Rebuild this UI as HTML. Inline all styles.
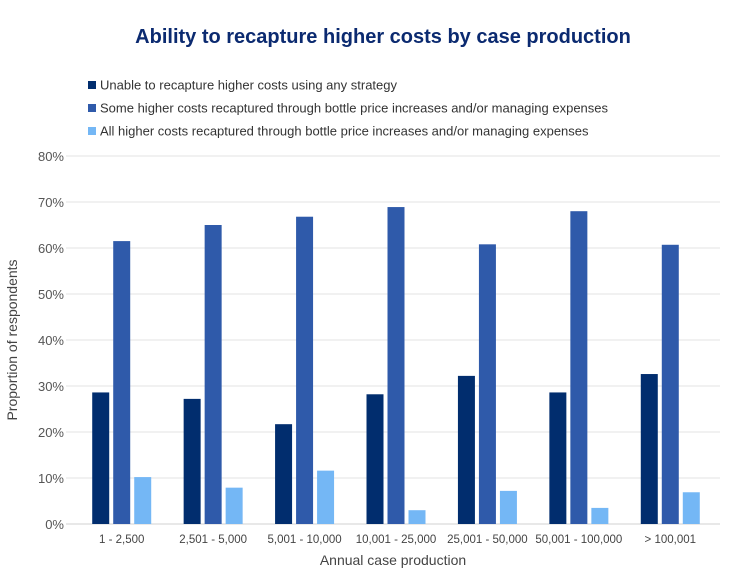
<!DOCTYPE html>
<html><head><meta charset="utf-8"><style>
body{margin:0;background:#fff;font-family:"Liberation Sans",Arial,sans-serif;}
svg text{font-family:"Liberation Sans",Arial,sans-serif;}
</style></head><body>
<svg id="chart" width="744" height="582" xmlns="http://www.w3.org/2000/svg">
<text x="383" y="43" text-anchor="middle" font-size="20" font-weight="bold" fill="#0b2a70">Ability to recapture higher costs by case production</text>
<g id="legend"></g>
<g id="grid"></g>
<g id="bars"></g>
<g id="xlabels"></g>
<text x="393" y="565" text-anchor="middle" font-size="14" fill="#444">Annual case production</text>
<text transform="translate(17,340) rotate(-90)" text-anchor="middle" font-size="14" fill="#444">Proportion of respondents</text>
</svg>
<script>
const categories=["1 - 2,500","2,501 - 5,000","5,001 - 10,000","10,001 - 25,000","25,001 - 50,000","50,001 - 100,000","> 100,001"];
const unable=[28.6,27.2,21.7,28.2,32.2,28.6,32.6];
const some=[61.5,65.0,66.8,68.9,60.8,68.0,60.7];
const all=[10.2,7.9,11.6,3.0,7.2,3.5,6.9];
const seriesNames=["Unable to recapture higher costs using any strategy","Some higher costs recaptured through bottle price increases and/or managing expenses","All higher costs recaptured through bottle price increases and/or managing expenses"];
const yTicks=[0,10,20,30,40,50,60,70,80];
const colors=["#012d6e","#2f5aaa","#74b7f5"];
const NS="http://www.w3.org/2000/svg";
const L=76,R=716,GR=720,T=156,B=524,ymax=80;
const y=v=>B-(v/ymax)*(B-T);
const gw=(R-L)/categories.length;
const bw=17,gap=4;
function mk(tag,attrs,parent){const e=document.createElementNS(NS,tag);for(const k in attrs)e.setAttribute(k,attrs[k]);parent.appendChild(e);return e;}
const grid=document.getElementById('grid');
yTicks.forEach(t=>{
 const l=mk('line',{x1:L-10,x2:GR,y1:y(t),y2:y(t),stroke:t===0?'#d0d0d0':'#e3e3e3','stroke-width':1},grid);
 
 
 const tx=mk('text',{x:64,y:y(t)+5,'text-anchor':'end','font-size':13,fill:'#555'},grid);
 tx.textContent=t+'%';
 
 
});
const bars=document.getElementById('bars');
const series=[unable,some,all];
categories.forEach((c,i)=>{
 const cx=L+gw*(i+0.5);
 series.forEach((s,j)=>{
  const x=cx-bw*1.5-gap+j*(bw+gap);
  const r=mk('rect',{x:x,y:y(s[i]),width:bw,height:B-y(s[i]),fill:colors[j]},bars);
  
  
 });
 const tx=mk('text',{x:cx,y:543,'text-anchor':'middle','font-size':11.5,fill:'#444'},document.getElementById('xlabels'));
 tx.textContent=c;
 
 
});
const lg=document.getElementById('legend');
seriesNames.forEach((n,j)=>{
 const yy=85+j*23;
 const r=mk('rect',{x:88,y:yy-4,width:8,height:8,fill:colors[j]},lg);
 
 
 const t=mk('text',{x:100,y:yy+4.5,'font-size':13,fill:'#333'},lg);
 t.textContent=n;
 
 
});
</script>
</body></html>
